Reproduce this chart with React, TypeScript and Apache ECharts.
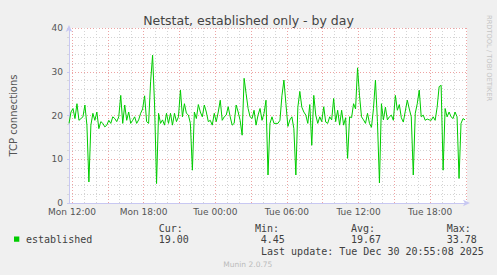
import React, { useEffect, useRef } from 'react';
import * as echarts from 'echarts';

// Time is expressed in minutes since Mon 00:00
const AXIS_MIN = 705; // Mon 11:45
const AXIS_MAX = 2705; // Tue 21:05
const FIRST_SAMPLE = 705;
const SAMPLE_STEP = 10;

const established: number[] = [
  18.2, 20.8, 21.6, 19.3, 22.7, 18.9, 19.3, 19.7, 22.4, 17.8, 4.8, 17.8, 20.5, 18.9, 20.8, 17.0, 18.6,
  18.2, 17.4, 17.8, 18.9, 18.2, 19.7, 19.3, 18.6, 19.7, 24.6, 18.2, 22.4, 18.9, 20.8, 18.2, 18.9,
  19.7, 18.2, 19.0, 20.5, 21.5, 24.5, 18.6, 18.2, 27.7, 33.78, 22.4, 4.45, 20.5, 18.2, 19.0, 17.8, 20.5,
  18.2, 20.5, 17.8, 20.5, 18.6, 19.7, 25.8, 19.7, 22.7, 20.5, 20.1, 18.2, 7.5, 20.8, 19.3, 22.5,
  20.8, 19.7, 22.4, 20.8, 18.6, 18.9, 17.8, 20.5, 18.6, 20.8, 23.5, 18.9, 19.7, 20.1, 22.0, 19.7, 17.8,
  18.2, 22.4, 20.8, 18.9, 15.5, 28.5, 25.0, 21.6, 19.7, 19.3, 21.2, 17.8, 20.1, 21.6, 18.9, 20.5,
  23.5, 6.4, 18.2, 19.7, 18.2, 18.2, 18.2, 18.9, 24.5, 28.1, 22.7, 17.5, 19.0, 19.7, 17.0, 6.4, 21.9,
  25.5, 21.9, 20.8, 20.1, 18.2, 22.5, 13.2, 24.6, 20.1, 18.2, 19.7, 18.6, 22.0, 18.5, 18.2, 19.7,
  19.0, 23.9, 18.6, 21.2, 17.8, 21.2, 17.8, 19.5, 10.2, 19.7, 19.5, 22.7, 21.5, 30.9, 24.5, 19.7, 19.0,
  18.2, 20.5, 18.2, 17.3, 21.6, 28.1, 18.6, 4.6, 22.7, 19.0, 21.9, 19.0, 19.7, 20.1, 18.9, 24.6,
  21.2, 22.5, 19.5, 18.5, 21.0, 23.5, 21.5, 19.7, 6.4, 20.5, 22.7, 25.8, 19.7, 20.1, 18.9, 19.2, 19.0,
  18.9, 19.7, 18.9, 21.9, 26.6, 26.9, 7.5, 21.6, 19.7, 20.8, 19.7, 19.3, 20.8, 19.7, 5.6, 18.2, 19.3, 19.0,
];

const labelTimes = [720, 1080, 1440, 1800, 2160, 2520];
const labelTexts = ['Mon 12:00', 'Mon 18:00', 'Tue 00:00', 'Tue 06:00', 'Tue 12:00', 'Tue 18:00'];
const majorGridTimes = [720, 900, 1080, 1260, 1440, 1620, 1800, 1980, 2160, 2340, 2520, 2700];
const hourGridTimes: number[] = [];
for (let t = 720; t <= 2700; t += 60) if (majorGridTimes.indexOf(t) < 0) hourGridTimes.push(t);

const legendName = 'established';
const statLabels = ['Cur:', 'Min:', 'Avg:', 'Max:'];
const statValues = ['19.00', '4.45', '19.67', '33.78'];
const titleText = 'Netstat, established only - by day';
const yName = 'TCP connections';
const lastUpdate = 'Last update: Tue Dec 30 20:55:08 2025';
const footer = 'Munin 2.0.75';
const sideText = 'RRDTOOL / TOBI OETIKER';

const GREEN = '#00cc00';
const MONO = '"DejaVu Sans Mono", monospace';
const SANS = '"DejaVu Sans", sans-serif';

export default function App() {
  const ref = useRef<HTMLDivElement>(null);
  useEffect(() => {
    if (!ref.current) return;
    const chart = echarts.init(ref.current, undefined, { renderer: 'svg' });
    const data = established.map((v, i) => [FIRST_SAMPLE + i * SAMPLE_STEP, v]);
    const statX = [158.7, 255, 351, 446.7];
    const valX = [158.7, 260.7, 351, 446.7];
    const graphic: any[] = [
      { type: 'text', x: 248.5, y: 20, style: { text: titleText, font: `12.5px ${SANS}`, fill: '#444', textAlign: 'center', textVerticalAlign: 'middle' } },
      { type: 'text', x: 488.5, y: 15, rotation: -Math.PI / 2, style: { text: sideText, font: `6.7px ${SANS}`, fill: '#c4c4c4', textAlign: 'left', textVerticalAlign: 'middle' } },
      { type: 'rect', shape: { x: 14, y: 236.5, width: 5.3, height: 5.3 }, style: { fill: GREEN } },
      { type: 'text', x: 26, y: 239.3, style: { text: legendName, font: `10px ${MONO}`, fill: '#404040', textVerticalAlign: 'middle' } },
      { type: 'text', x: 261, y: 251.5, style: { text: lastUpdate, font: `10px ${MONO}`, fill: '#404040', textVerticalAlign: 'middle' } },
      { type: 'text', x: 223.3, y: 264.3, style: { text: footer, font: `7.5px ${SANS}`, fill: '#bbbbbb', textVerticalAlign: 'middle' } },
    ];
    statLabels.forEach((s, i) => {
      graphic.push({ type: 'text', x: statX[i], y: 228, style: { text: s, font: `10px ${MONO}`, fill: '#404040', textVerticalAlign: 'middle' } });
      graphic.push({ type: 'text', x: valX[i], y: 239.3, style: { text: statValues[i], font: `10px ${MONO}`, fill: '#404040', textVerticalAlign: 'middle' } });
    });

    chart.setOption({
      animation: false,
      backgroundColor: '#f0f0f0',
      grid: { left: 67, top: 28, width: 400, height: 175, show: true, backgroundColor: '#ffffff', borderWidth: 0 },
      xAxis: [
        {
          type: 'value',
          min: AXIS_MIN,
          max: AXIS_MAX,
          position: 'bottom',
          axisLine: { show: true, lineStyle: { color: '#c8c8f2', width: 1 }, symbol: ['none', 'arrow'], symbolSize: [5, 7], symbolOffset: [0, 3] },
          axisTick: { show: false, customValues: majorGridTimes },
          axisLabel: {
            customValues: labelTimes,
            formatter: (v: number) => { const k = labelTimes.indexOf(v); return k >= 0 ? labelTexts[k] : ''; },
            color: '#555', fontFamily: 'DejaVu Sans', fontSize: 9, margin: 4,
          },
          splitLine: { show: true, lineStyle: { color: '#eda3a3', type: [1, 2], width: 1 } },
        },
        {
          type: 'value',
          min: AXIS_MIN,
          max: AXIS_MAX,
          position: 'top',
          axisLine: { show: false },
          axisTick: { show: false, customValues: hourGridTimes },
          axisLabel: { show: false },
          splitLine: { show: true, lineStyle: { color: '#d4d4d4', type: [1, 2], width: 1 } },
        },
      ],
      yAxis: {
        type: 'value',
        min: 0,
        max: 40,
        interval: 10,
        name: yName,
        nameLocation: 'middle',
        nameRotate: 90,
        nameGap: 51,
        nameTextStyle: { color: '#555', fontFamily: 'DejaVu Sans', fontSize: 10 },
        axisLine: { show: true, lineStyle: { color: '#c8c8f2', width: 1 }, symbol: ['none', 'arrow'], symbolSize: [5, 7], symbolOffset: [0, 3] },
        axisTick: { show: true, length: 2, lineStyle: { color: '#c8c8f2' } },
        minorTick: { show: true, splitNumber: 5, length: 2, lineStyle: { color: '#d8d8d8' } },
        axisLabel: { color: '#555', fontFamily: 'DejaVu Sans', fontSize: 9, margin: 6 },
        splitLine: { show: true, lineStyle: { color: '#eda3a3', type: [1, 2], width: 1 } },
        minorSplitLine: { show: true, lineStyle: { color: '#d4d4d4', type: [1, 2], width: 1 } },
      },
      series: [
        {
          type: 'line',
          name: legendName,
          xAxisIndex: 0,
          data,
          showSymbol: false,
          symbol: 'none',
          lineStyle: { color: GREEN, width: 1 },
          itemStyle: { color: GREEN },
        },
      ],
      graphic,
    });
    return () => chart.dispose();
  }, []);
  return <div ref={ref} style={{ position: 'fixed', left: 0, top: 0, width: 497, height: 275 }} />;
}
